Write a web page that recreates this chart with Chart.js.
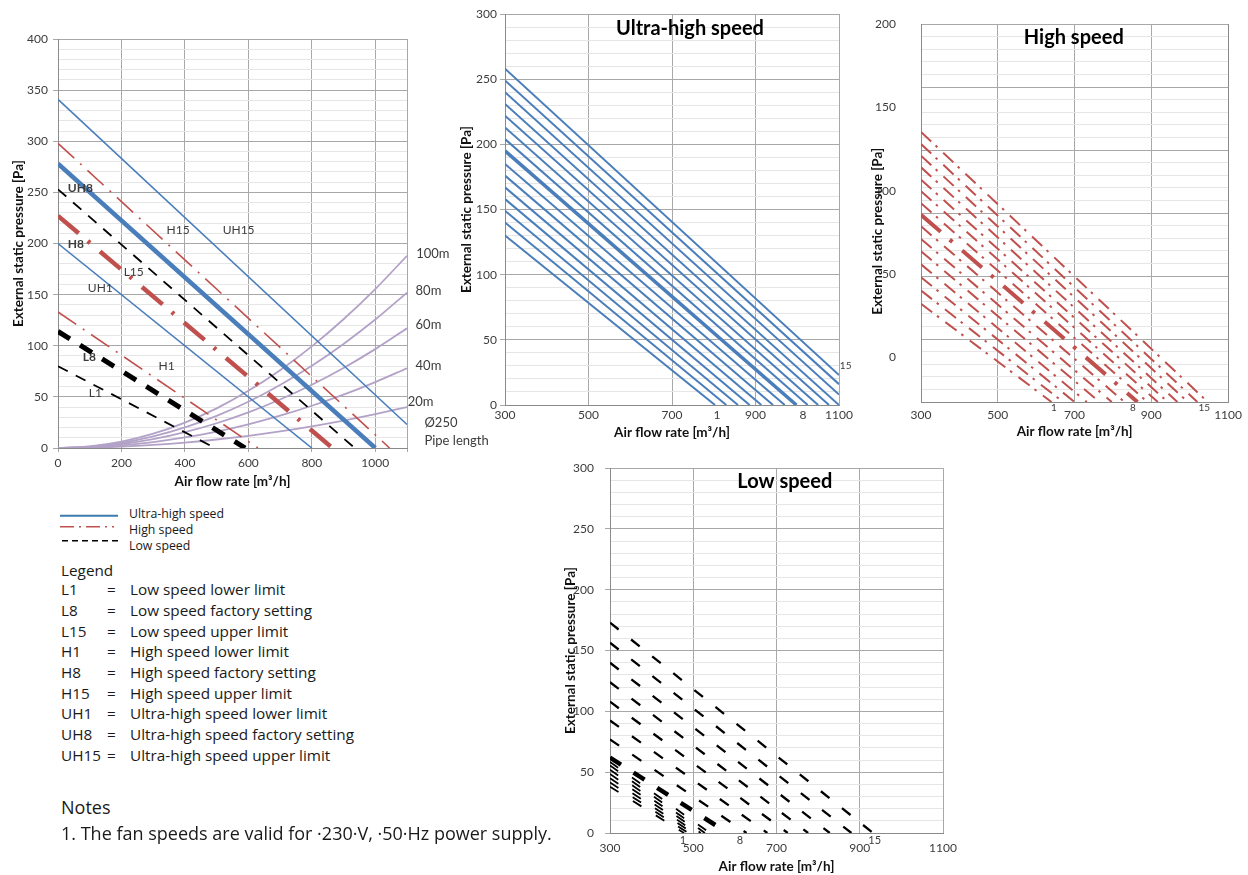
<!DOCTYPE html>
<html>
<head>
<meta charset="utf-8">
<title>Fan performance curves</title>
<script src="https://cdn.jsdelivr.net/npm/chart.js@4.4.1/dist/chart.umd.min.js"></script>
<style>
  body { margin: 0; background: #fff; font-family: "Open Sans", Lato, sans-serif; color: #1a1a1a; }
  #page { position: relative; width: 1248px; height: 875px; overflow: hidden; }
  canvas { position: absolute; }
  .t { position: absolute; white-space: nowrap; }
</style>
</head>
<body>
<div id="page">
  <canvas id="mainChart" width="500" height="465" style="left:0;top:25px"></canvas>
  <canvas id="ultraChart" width="420" height="450" style="left:450px;top:0"></canvas>
  <canvas id="highChart" width="388" height="450" style="left:860px;top:0"></canvas>
  <canvas id="lowChart" width="420" height="425" style="left:550px;top:450px"></canvas>

  <svg class="t" style="left:0;top:505px" width="130" height="45">
    <line x1="60" y1="10.7" x2="118" y2="10.7" stroke="#3b7bb0" stroke-width="2"/>
    <line x1="60" y1="21.7" x2="114" y2="21.7" stroke="#c0504d" stroke-width="1.6" stroke-dasharray="14 5 2 5"/>
    <line x1="62" y1="35.7" x2="120" y2="35.7" stroke="#000" stroke-width="1.6" stroke-dasharray="6 4"/>
  </svg>
  <div id="legend"></div>
</div>

<script>
// ---------- main chart: flow [m3/h] / pressure [Pa]
const mainUH1 = [[0, 200], [800, 0]];
const mainUH8 = [[0, 278], [1000, 0]];
const mainUH15 = [[0, 341], [1100, 23]];
const mainH1 = [[0, 133], [630, 0]];
const mainH8 = [[0, 227], [865, 0]];
const mainH15 = [[0, 298], [1045, 0]];
const mainL1 = [[0, 80], [495, 0]];
const mainL8 = [[0, 114], [590, 0]];
const mainL15 = [[0, 253], [935, 0]];

// duct resistance, Ø250 pipe
const pipeFlow = [0, 100, 200, 300, 400, 500, 600, 700, 800, 900, 1000, 1100];
const pipe20m = [0, 0.3, 1.3, 3.0, 5.3, 8.3, 11.9, 16.2, 21.2, 26.8, 33.1, 40];
const pipe40m = [0, 0.6, 2.6, 5.8, 10.3, 16.1, 23.2, 31.6, 41.3, 52.2, 64.5, 78];
const pipe60m = [0, 1.0, 3.9, 8.7, 15.5, 24.2, 34.8, 47.4, 61.9, 78.3, 96.7, 117];
const pipe80m = [0, 1.3, 5.0, 11.3, 20.1, 31.4, 45.2, 61.6, 80.4, 101.8, 125.6, 152];
const pipe100m = [0, 1.6, 6.2, 14.0, 24.9, 38.8, 55.9, 76.1, 99.4, 125.9, 155.4, 188];

const mainXTicks = [0, 200, 400, 600, 800, 1000, 1100];
const mainXLabels = [0, 200, 400, 600, 800, 1000];
const mainYLabels = [0, 50, 100, 150, 200, 250, 300, 350, 400];

// ---------- speed steps 1..15, pressure at 300 m3/h and end of line
const ultraStart = [130, 140, 149, 158, 167, 176, 185, 195, 204, 213, 222, 231, 240, 249, 258];
const ultraEndFlow = [803, 830, 858, 886, 914, 942, 970, 998, 1025, 1050, 1076, 1100, 1100, 1100, 1100];
const ultraEndPressure = [0, 0, 0, 0, 0, 0, 0, 0, 0, 0, 0, 0, 8, 16, 23];

const highStart = [32, 40, 48, 55.7, 63.6, 71, 78.6, 85.5, 92.4, 99.7, 106.6, 114, 121, 128, 135.3];
const highEndFlow = [640, 670, 700, 732, 765, 797, 830, 864, 890, 917, 943, 968, 995, 1020, 1047];
const highEndPressure = [-27, -27, -27, -27, -27, -27, -27, -27, -27, -27, -27, -27, -27, -27, -27];

const lowStart = [38, 41.5, 45, 48.5, 52, 55.5, 58.5, 62, 77, 92.5, 108, 124, 140, 156.5, 173];
const lowEndFlow = [478, 488, 498, 508, 518, 528, 540, 583, 628, 678, 727, 776, 828, 880, 932];

const speedXTicks = [300, 500, 700, 900, 1100];
const highYLabels = [0, 50, 100, 150, 200];

const legendCodes = ['L1', 'L8', 'L15', 'H1', 'H8', 'H15', 'UH1', 'UH8', 'UH15'];
const legendText = ['Low speed lower limit', 'Low speed factory setting', 'Low speed upper limit',
  'High speed lower limit', 'High speed factory setting', 'High speed upper limit',
  'Ultra-high speed lower limit', 'Ultra-high speed factory setting', 'Ultra-high speed upper limit'];

const FONT = 'Lato, "Open Sans", sans-serif';
const BLUE = '#4a7ebb', RED = '#c0504d', BLACK = '#000000', LILAC = '#b3a2c7';
const MAJOR = '#a8a8a8', MINOR = '#e6e6e6', AXIS = '#8a8a8a', TXT = '#3c3c3c';
const YTITLE = 'External static pressure [Pa]';

Chart.defaults.font.family = FONT;
Chart.defaults.color = TXT;

function pts(pairs) {
    return pairs.map(p => ({ x: p[0], y: p[1] }));
}

function line(data, color, width, dash, yAxisID) {
    return {
        data: data,
        borderColor: color,
        borderWidth: width,
        borderDash: dash || [],
        borderCapStyle: 'butt',
        pointRadius: 0,
        tension: 0,
        fill: false,
        yAxisID: yAxisID || 'y'
    };
}

// text written at data positions
function labelsPlugin(items, axisId) {
    return {
        id: 'labels',
        afterDraw(chart) {
            const ctx = chart.ctx;
            const xs = chart.scales.x, ys = chart.scales[axisId || 'y'];
            items.forEach(function(it) {
                ctx.save();
                ctx.font = (it.bold ? 'bold ' : '') + (it.size || 12) + 'px ' + FONT;
                ctx.fillStyle = it.color || TXT;
                ctx.textAlign = it.align || 'left';
                ctx.textBaseline = 'middle';
                const px = xs.getPixelForValue(it.x);
                const py = it.y === undefined ? chart.chartArea.bottom + it.dy : ys.getPixelForValue(it.y);
                ctx.translate(px, py);
                if (it.rot) ctx.rotate(it.rot * Math.PI / 180);
                ctx.fillText(it.text, 0, 0);
                ctx.restore();
            });
        }
    };
}

function everyTen(min, max) {
    return function(scale) {
        const ticks = [];
        for (let v = min; v <= max; v += 10) ticks.push({ value: v });
        scale.ticks = ticks;
    };
}

const isMajor = c => c.tick && c.tick.value % 50 === 0;

function pressureAxis(max, width, tickPad, titlePad) {
    return {
        type: 'linear', position: 'left', min: 0, max: max,
        afterBuildTicks: everyTen(0, max),
        afterFit: s => { s.width = width; },
        ticks: { autoSkip: false, padding: tickPad, color: TXT, font: { size: 12 },
            callback: v => (v % 50 === 0 ? String(v) : '') },
        grid: { color: c => (isMajor(c) ? MAJOR : MINOR), tickLength: 5,
            tickColor: c => (isMajor(c) ? MAJOR : 'rgba(0,0,0,0)') },
        border: { color: AXIS },
        title: { display: true, text: YTITLE, color: '#111',
            font: { size: 13.5, weight: 'bold' }, padding: { top: titlePad, bottom: 0 } }
    };
}

function flowAxis(min, max, ticksList, labelsList, height, tickLen, tickPad, titlePad) {
    return {
        type: 'linear', min: min, max: max,
        afterBuildTicks: s => { s.ticks = ticksList.map(v => ({ value: v })); },
        afterFit: s => { s.height = height; },
        ticks: { autoSkip: false, maxRotation: 0, padding: tickPad, color: TXT, font: { size: 12 },
            callback: v => (labelsList.includes(v) ? String(v) : '') },
        grid: { color: MAJOR, drawTicks: tickLen > 0, tickLength: tickLen, tickColor: MAJOR },
        border: { color: AXIS },
        title: { display: true, text: 'Air flow rate [m³/h]', color: '#111',
            font: { size: 13.5, weight: 'bold' }, padding: { top: 0, bottom: titlePad } }
    };
}

function baseOptions(padding, scales) {
    return {
        responsive: false,
        animation: false,
        layout: { padding: padding },
        plugins: { legend: { display: false }, tooltip: { enabled: false } },
        scales: scales
    };
}

// ---------- main chart
const mainSets = [
    line(pts(mainUH15), BLUE, 1.6),
    line(pts(mainUH8), BLUE, 4.5),
    line(pts(mainUH1), BLUE, 1.6),
    line(pts(mainH15), RED, 1.6, [22, 8, 2, 8]),
    line(pts(mainH8), RED, 4.5, [27, 12, 3, 13]),
    line(pts(mainH1), RED, 1.6, [22, 8, 2, 8]),
    line(pts(mainL15), BLACK, 1.8, [11, 9]),
    line(pts(mainL8), BLACK, 5, [14, 12]),
    line(pts(mainL1), BLACK, 1.8, [11, 9])
];
[pipe100m, pipe80m, pipe60m, pipe40m, pipe20m].forEach(function(p) {
    const ds = line(pipeFlow.map((f, i) => ({ x: f, y: p[i] })), LILAC, 1.8);
    ds.cubicInterpolationMode = 'monotone';
    mainSets.push(ds);
});

const mainNotes = [
    { text: 'UH8', x: 31, y: 254.5, bold: true },
    { text: 'H15', x: 342, y: 213 },
    { text: 'UH15', x: 519, y: 213 },
    { text: 'H8', x: 31, y: 199.5, bold: true },
    { text: 'L15', x: 207, y: 172.4 },
    { text: 'UH1', x: 94, y: 156.5 },
    { text: 'L8', x: 78, y: 89.3, bold: true },
    { text: 'H1', x: 317, y: 80 },
    { text: 'L1', x: 97, y: 54 },
    { text: '100m', x: 1129, y: 190, size: 13 },
    { text: '80m', x: 1127, y: 154, size: 13 },
    { text: '60m', x: 1127, y: 120, size: 13 },
    { text: '40m', x: 1127, y: 80.5, size: 13 },
    { text: '20m', x: 1102, y: 45, size: 13 },
    { text: 'Ø250', x: 1155, y: 24.7, size: 13 },
    { text: 'Pipe length', x: 1155, y: 7, size: 13 }
];

new Chart(document.getElementById('mainChart'), {
    type: 'line',
    data: { datasets: mainSets },
    options: baseOptions({ left: 0, top: 14, right: 93, bottom: 0 }, {
        x: flowAxis(0, 1100, mainXTicks, mainXLabels, 42, 4, 4, 0.5),
        y: Object.assign(pressureAxis(400, 58, 5, 10.5), {
            ticks: { autoSkip: false, padding: 5, color: TXT, font: { size: 12 },
                callback: v => (mainYLabels.includes(v) ? String(v) : '') }
        })
    }),
    plugins: [labelsPlugin(mainNotes)]
});

// ---------- ultra-high speed
const ultraSets = ultraStart.map(function(s, i) {
    return line([{ x: 300, y: s }, { x: ultraEndFlow[i], y: ultraEndPressure[i] }], BLUE, i === 7 ? 3.5 : 2);
});

new Chart(document.getElementById('ultraChart'), {
    type: 'line',
    data: { datasets: ultraSets },
    options: baseOptions({ left: 0, top: 14, right: 31, bottom: 0 }, {
        x: flowAxis(300, 1100, speedXTicks, speedXTicks, 45, 0, 3, 9.2),
        y: pressureAxis(300, 55, 3, 9)
    }),
    plugins: [labelsPlugin([
        { text: 'Ultra-high speed', x: 743, y: 289, bold: true, size: 20, align: 'center', color: '#000' },
        { text: '15', x: 1102, y: 30, size: 10 },
        { text: '1', x: 808, dy: 10, align: 'center' },
        { text: '8', x: 1014, dy: 10, align: 'center' }
    ])]
});

// ---------- high speed (tick labels and grid come from two different scales)
const highSets = highStart.map(function(s, i) {
    const thick = i === 7;
    return line([{ x: 300, y: s }, { x: highEndFlow[i], y: highEndPressure[i] }], RED,
        thick ? 4 : 2, thick ? [26, 12, 3.5, 13] : [14, 6, 2.5, 8]);
});

new Chart(document.getElementById('highChart'), {
    type: 'line',
    data: { datasets: highSets },
    options: baseOptions({ left: 0, top: 19, right: 15, bottom: 0 }, {
        x: flowAxis(300, 1100, speedXTicks, speedXTicks, 48, 0, 6, 9.9),
        y: {
            type: 'linear', position: 'left', min: -27, max: 200,
            afterBuildTicks: s => { s.ticks = highYLabels.map(v => ({ value: v })); },
            afterFit: s => { s.width = 61; },
            ticks: { autoSkip: false, padding: 17, color: TXT, font: { size: 12 } },
            grid: { display: false },
            border: { display: true, color: AXIS }
        },
        yg: {
            type: 'linear', position: 'right', min: 0, max: 300,
            afterBuildTicks: everyTen(0, 300),
            afterFit: s => { s.width = 0; },
            ticks: { display: false },
            grid: { color: c => (isMajor(c) ? MAJOR : MINOR), drawTicks: false },
            border: { display: true, color: AXIS }
        }
    }),
    plugins: [labelsPlugin([
        { text: 'High speed', x: 698, y: 192, bold: true, size: 20, align: 'center', color: '#000' },
        { text: YTITLE, x: 187, y: 75.6, bold: true, size: 13.5, align: 'center', color: '#111', rot: -90 },
        { text: '1', x: 646, dy: 6, align: 'center', size: 10 },
        { text: '8', x: 852, dy: 6, align: 'center', size: 10 },
        { text: '15', x: 1038, dy: 6, align: 'center', size: 10 }
    ])]
});

// ---------- low speed
const lowSets = lowStart.map(function(s, i) {
    let width = 2.3, dash = [11, 16];
    if (i === 7) { width = 4.5; dash = [13, 15]; }
    if (i < 7) { width = 1.8; dash = [10, 17]; }
    return line([{ x: 300, y: s }, { x: lowEndFlow[i], y: 0 }], BLACK, width, dash);
});

new Chart(document.getElementById('lowChart'), {
    type: 'line',
    data: { datasets: lowSets },
    options: baseOptions({ left: 0, top: 17, right: 27, bottom: 0 }, {
        x: flowAxis(300, 1100, speedXTicks, speedXTicks, 42, 0, 8, 0.5),
        y: pressureAxis(300, 60, 11, 12.2)
    }),
    plugins: [labelsPlugin([
        { text: 'Low speed', x: 720, y: 289, bold: true, size: 20, align: 'center', color: '#000' },
        { text: '1', x: 475, dy: 7, align: 'center', size: 11 },
        { text: '8', x: 612, dy: 7, align: 'center', size: 11 },
        { text: '15', x: 936, dy: 7, align: 'center', size: 11 }
    ])]
});

// ---------- legend and notes
function addText(text, left, centerY, size) {
    const d = document.createElement('div');
    d.className = 't';
    d.textContent = text;
    d.style.left = left + 'px';
    d.style.top = (centerY - size * 0.7) + 'px';
    d.style.fontSize = size + 'px';
    d.style.lineHeight = (size * 1.4) + 'px';
    document.getElementById('legend').appendChild(d);
}

addText('Ultra-high speed', 129, 514, 12.3);
addText('High speed', 129, 529.5, 12.3);
addText('Low speed', 129, 545.5, 12.3);
addText('Legend', 61, 570.5, 15.3);
legendCodes.forEach(function(code, i) {
    const y = 590 + i * 20.7;
    addText(code, 61, y, 15.3);
    addText('=', 107, y, 15.3);
    addText(legendText[i], 130, y, 15.3);
});
addText('Notes', 61, 808, 18);
addText('1. The fan speeds are valid for \u00b7230\u00b7V, \u00b750\u00b7Hz power supply.', 61, 834, 18);
</script>
</body>
</html>
